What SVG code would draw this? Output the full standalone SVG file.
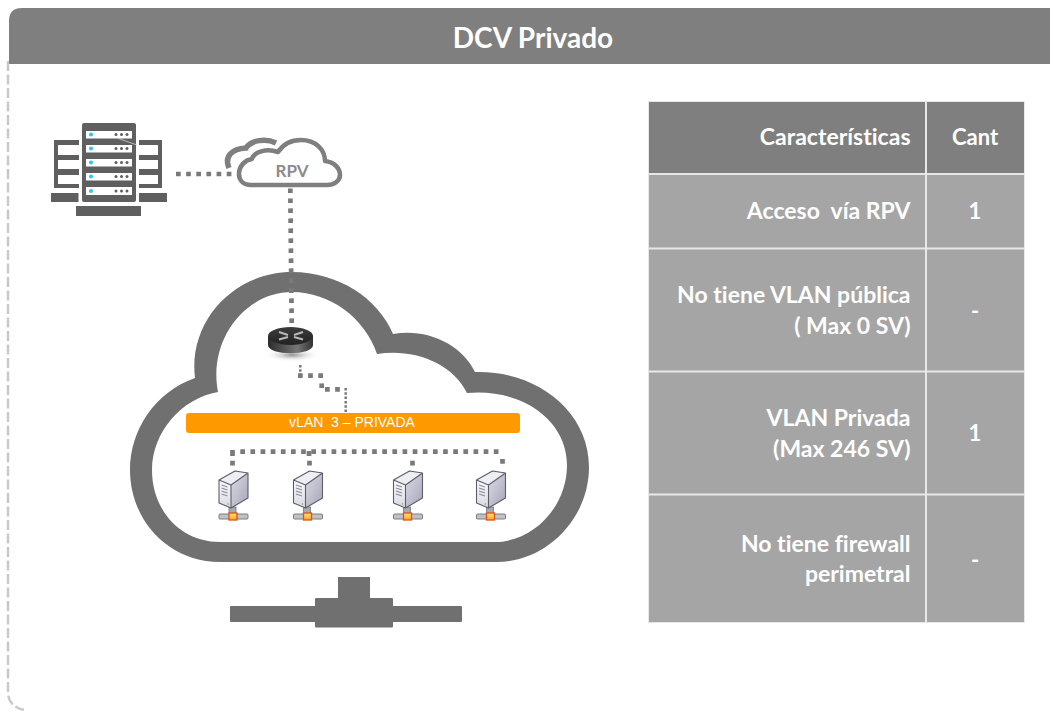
<svg xmlns="http://www.w3.org/2000/svg" width="1050" height="711" viewBox="0 0 1050 711">
<style>
text{font-family:Lato,"Open Sans","Liberation Sans",sans-serif;font-weight:700;fill:#fff;font-variant-ligatures:none}
.r{text-anchor:end;font-size:23px}
.c{text-anchor:middle;font-size:22px}
.dark{fill:#7f7f7f}.mid{fill:#a5a5a5}
.dot{fill:none;stroke:#7a7a7a;stroke-width:4.700;stroke-dasharray:4.700 5.440}
.fine{fill:none;stroke:#7a7a7a;stroke-width:2.500;stroke-dasharray:2.500 1.800}
.ic{fill:#5f5f5f}
.slot{fill:#fff}
.blue{fill:#2cc3f5}
</style>
<defs>
<linearGradient id="srv" x1="0" y1="0" x2="1" y2="1"><stop offset="0" stop-color="#dcdce6"/><stop offset="1" stop-color="#a4a4b8"/></linearGradient>
<linearGradient id="srvf" x1="0" y1="0" x2="0" y2="1"><stop offset="0" stop-color="#fafafc"/><stop offset="1" stop-color="#d8d8e0"/></linearGradient>
<linearGradient id="org" x1="0" y1="0" x2="0" y2="1"><stop offset="0" stop-color="#ffe27a"/><stop offset="1" stop-color="#ffa818"/></linearGradient>
<linearGradient id="rt" x1="0" y1="0" x2="1" y2="0"><stop offset="0" stop-color="#2c2c2c"/><stop offset=".65" stop-color="#767676"/><stop offset="1" stop-color="#333"/></linearGradient>
<linearGradient id="rtop" x1="0" y1="0" x2="0" y2="1"><stop offset="0" stop-color="#3c3c3c"/><stop offset="1" stop-color="#222"/></linearGradient>
<radialGradient id="sh"><stop offset="0" stop-color="#8f8f8f"/><stop offset="1" stop-color="#fff" stop-opacity="0"/></radialGradient>
<g id="server">
<rect x="11" y="37" width="7" height="8" fill="#a8a8b0" stroke="#77777f" stroke-width=".8"/>
<rect x="1" y="44" width="29" height="5" rx="1" fill="#c0c0c6" stroke="#7c7c86"/>
<rect x="11" y="43" width="8" height="7" fill="url(#org)" stroke="#d9531e" stroke-width="1.300"/>
<path d="M1 10 L17 1 L30 3 L13 15Z" fill="#eeeef3"/>
<path d="M13 15 L30 3 V28 L13 38Z" fill="url(#srv)"/>
<path d="M1 10 L13 15 V38 L1 33Z" fill="url(#srvf)"/>
<path d="M1 10 L17 1 L30 3 V28 L13 38 L1 33Z M1 10 L13 15 L30 3 M13 15 V38" fill="none" stroke="#5b5f6a" stroke-width="1.100" stroke-linejoin="round"/>
<path d="M3.500 15 l6 2 M3.500 18 l6 2 M3.500 21 l6 2 M3.500 24 l6 2" stroke="#8d8d9c" stroke-width="1.300"/>
<circle cx="10" cy="34" r=".8" fill="#5fc35f"/>
</g>
</defs>
<rect width="1050" height="711" fill="#fff"/>

<g id="frame"><path d="M8 61 V692 Q8 706 24 710" fill="none" stroke="#c9c9c9" stroke-width="2.500" stroke-dasharray="10 3.500"/></g>
<g id="header"><path d="M9 64 V21 Q9 8 22 8 H1050 V64Z" class="dark"/><text x="533" y="47.500" text-anchor="middle" font-size="28">DCV Privado</text></g>

<g id="big-cloud"><path fill-rule="evenodd" fill="#707070" d="M220 562 C168 562 130 520 130 470 C130 430 155 392 195 378 C188 320 235 272 292 272 C338 272 378 298 393 334 C428 328 462 345 475 372 C535 370 589 410 589 467 C589 520 545 562 497 562Z M220 542 C180 542 152 510 152 470 C152 432 182 398 218 392 C208 340 245 292 292 292 C330 292 365 318 377 354 C412 348 452 362 467 393 C522 388 567 420 567 465 C567 508 532 542 495 542Z"/></g>
<g id="stand" fill="#707070"><rect x="338" y="577" width="32" height="22"/><rect x="230" y="606" width="232" height="16" rx="1"/><rect x="315" y="598" width="78" height="29.500" rx="1"/></g>

<g id="connectors">
<path class="dot" d="M176 174 H236"/>
<path class="dot" d="M290.300 188.400 L291.700 325" style="stroke-dasharray:4.700 5.300"/>
<path class="fine" d="M300.300 365 V374"/>
<path class="dot" d="M298 375.700 H325"/>
<path class="dot" d="M321.700 383.400 V388"/>
<path class="dot" d="M325 389.300 H341"/>
<path class="fine" d="M345.700 388 V413"/>
<path class="dot" d="M240.300 451.700 H499"/>
<path class="dot" d="M232.500 450 V456 M309 451 V456" style="stroke-dasharray:none"/>
<path class="dot" d="M232.500 460.700 V465.400 M309.500 460.700 V465.400 M412.500 460.700 V465.400 M502.500 459 V463.700" style="stroke-dasharray:none"/>
</g>

<g id="rack">
<rect x="54" y="140" width="25" height="48" class="ic"/><rect x="58" y="145" width="21" height="10" class="slot"/><rect x="58" y="160" width="21" height="9" class="slot"/><rect x="58" y="175" width="21" height="9" class="slot"/>
<rect x="139" y="140" width="23" height="48" class="ic"/><rect x="139" y="145" width="19" height="10" class="slot"/><rect x="139" y="160" width="19" height="9" class="slot"/><rect x="139" y="175" width="19" height="9" class="slot"/>
<rect x="51" y="193" width="27.500" height="9" class="ic"/><rect x="139" y="193" width="28" height="9" class="ic"/><rect x="76" y="206" width="65" height="10" class="ic"/>
<rect x="82" y="123" width="54" height="79" rx="2" class="ic"/>
<rect x="86" y="131" width="46" height="7.500" class="slot"/><rect x="86" y="145" width="46" height="7.500" class="slot"/><rect x="86" y="159" width="46" height="7.500" class="slot"/><rect x="86" y="173" width="46" height="7.500" class="slot"/><rect x="86" y="187" width="46" height="8" class="slot"/>
<g class="blue"><circle cx="91" cy="134.500" r="2"/><circle cx="91" cy="148.500" r="2"/><circle cx="91" cy="162.500" r="2"/><circle cx="91" cy="176.500" r="2"/><circle cx="91" cy="191" r="2"/></g>
<g class="ic"><circle cx="116" cy="134.500" r="1.500"/><circle cx="121.500" cy="134.500" r="1.500"/><circle cx="127" cy="134.500" r="1.500"/><circle cx="116" cy="148.500" r="1.500"/><circle cx="121.500" cy="148.500" r="1.500"/><circle cx="127" cy="148.500" r="1.500"/><circle cx="116" cy="162.500" r="1.500"/><circle cx="121.500" cy="162.500" r="1.500"/><circle cx="127" cy="162.500" r="1.500"/><circle cx="116" cy="176.500" r="1.500"/><circle cx="121.500" cy="176.500" r="1.500"/><circle cx="127" cy="176.500" r="1.500"/><circle cx="116" cy="191" r="1.500"/><circle cx="121.500" cy="191" r="1.500"/><circle cx="127" cy="191" r="1.500"/></g>
<path d="M117 138 L137 145" fill="none" stroke="#cfcfcf" stroke-width=".8"/>
</g>

<g id="rpv-cloud">
<path d="M229 168 C224 156 232 149 246 148 C251 140 266 138 276 143" fill="none" stroke="#7f7f7f" stroke-width="5.500"/>
<path d="M251 185 C243 185 239 180 239 174 C239 166 245 160 252 159 C254 152 266 148 278 152 C284 143 293 140 301 140 C316 140 325 150 325 161 C334 162 340 168 340 175 C340 181 334 185 327 185Z" fill="#fff" stroke="#7f7f7f" stroke-width="4.500" stroke-linejoin="round"/>
<text x="292" y="177" text-anchor="middle" font-size="17" style="fill:#8c8c8c">RPV</text>
</g>

<g id="router">
<ellipse cx="292" cy="355" rx="28" ry="7" fill="url(#sh)"/>
<path d="M268 336 V345 C268 356 313 356 313 345 V336Z" fill="url(#rt)"/>
<ellipse cx="290.500" cy="336" rx="22.500" ry="9" fill="url(#rtop)"/>
<path d="M279 332 l9 3 M303 332 l-9 3 M279 339.500 l9 -2.500 M303 339.500 l-9 -2.500" stroke="#b8b8b8" stroke-width="2.200"/>
</g>

<g id="vlan"><rect x="186" y="413" width="334" height="20" rx="3" fill="#ff9900"/><text x="352" y="427" text-anchor="middle" font-size="14" xml:space="preserve" style="font-family:'Liberation Sans',sans-serif;font-weight:400">vLAN  3 – PRIVADA</text></g>

<use id="server1" href="#server" x="218" y="470"/>
<use id="server2" href="#server" x="292.500" y="470"/>
<use id="server3" href="#server" x="392.500" y="470"/>
<use id="server4" href="#server" x="475.500" y="470"/>

<g id="table">
<rect x="648" y="101" width="377" height="522" fill="#e8e8e8"/>
<rect x="649" y="102" width="276" height="71" class="dark"/><rect x="927" y="102" width="97" height="71" class="dark"/>
<rect x="649" y="175" width="276" height="72.500" class="mid"/><rect x="927" y="175" width="97" height="72.500" class="mid"/>
<rect x="649" y="249.500" width="276" height="121" class="mid"/><rect x="927" y="249.500" width="97" height="121" class="mid"/>
<rect x="649" y="372.500" width="276" height="121" class="mid"/><rect x="927" y="372.500" width="97" height="121" class="mid"/>
<rect x="649" y="495.500" width="276" height="126.500" class="mid"/><rect x="927" y="495.500" width="97" height="126.500" class="mid"/>
<text class="r" x="910.500" y="145">Características</text><text class="c" x="975" y="145">Cant</text>
<text class="r" x="910.500" y="218.500" xml:space="preserve">Acceso  vía RPV</text><text class="c" x="975" y="219">1</text>
<text class="r" x="910.500" y="303">No tiene VLAN pública</text><text class="r" x="910.500" y="334">( Max 0 SV)</text><text class="c" x="975" y="319">-</text>
<text class="r" x="910.500" y="426">VLAN Privada</text><text class="r" x="910.500" y="457">(Max 246 SV)</text><text class="c" x="975" y="441">1</text>
<text class="r" x="910.500" y="551.500">No tiene firewall</text><text class="r" x="910.500" y="582">perimetral</text><text class="c" x="975" y="568">-</text>
</g>
</svg>
